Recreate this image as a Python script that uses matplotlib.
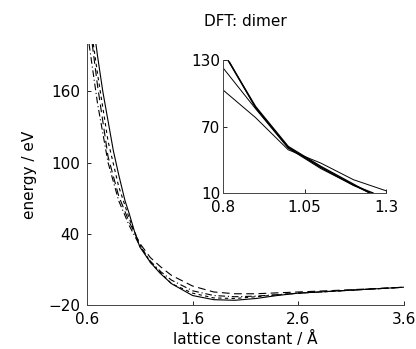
import matplotlib
matplotlib.use("Agg")
import matplotlib.pyplot as plt

plt.rcParams['font.family'] = ['DejaVu Sans']

# main panel: energy vs lattice constant, four calculations
x_solid = [0.685, 0.7, 0.75, 0.8, 0.85, 0.9, 0.96, 1.0, 1.05, 1.1, 1.2, 1.29, 1.4, 1.6, 1.8, 2.0, 2.2, 2.4, 2.6, 2.8, 3.0, 3.2, 3.4, 3.6]
y_solid = [200, 190, 160, 135, 110, 90, 68, 57, 42, 29, 16, 7, -2, -12, -15.5, -16, -14.5, -12, -10, -9, -8, -7, -6, -5]

x_long = [0.65, 0.7, 0.8, 0.9, 1.0, 1.1, 1.2, 1.3, 1.4, 1.6, 1.8, 2.0, 2.2, 2.6, 3.0, 3.6]
y_long = [200, 165, 105, 72, 50, 32, 20, 12, 5, -4, -9, -10.5, -10.5, -9, -7.5, -5]

x_dashdot = [0.62, 0.7, 0.8, 0.9, 1.0, 1.1, 1.2, 1.3, 1.4, 1.6, 1.8, 2.0, 2.2, 2.6, 3.0, 3.6]
y_dashdot = [200, 150, 100, 68, 47, 30, 17, 8, 1, -8, -12, -13, -12.5, -10, -8, -5]

x_short = [0.66, 0.7, 0.8, 0.9, 1.0, 1.1, 1.2, 1.4, 1.6, 1.8, 2.0, 2.2, 2.6, 3.0, 3.6]
y_short = [200, 175, 118, 80, 53, 31, 16, -2, -10, -14, -14.5, -13, -10, -8, -5]

main_xticks = [0.6, 1.6, 2.6, 3.6]
main_yticks = [-20, 40, 100, 160]

# inset: zoom on the repulsive part
ins_x1 = [0.815, 0.9, 1.0, 1.1, 1.2, 1.25]
ins_y1 = [130, 88, 52, 34, 18, 10]
ins_x2 = [0.82, 0.9, 1.0, 1.1, 1.2, 1.26]
ins_y2 = [128, 87, 51, 33, 17, 10]
ins_x3 = [0.8, 0.9, 1.0, 1.1, 1.2, 1.25]
ins_y3 = [123, 86, 50.5, 32, 17, 10]
ins_x4 = [0.8, 0.9, 1.0, 1.1, 1.2, 1.3]
ins_y4 = [103, 78, 49, 37, 22, 12]

ins_xticks = [0.8, 1.05, 1.3]
ins_yticks = [10, 70, 130]

fig = plt.figure(figsize=(4.16, 3.49), dpi=100)
ax = fig.add_axes([0.209, 0.126, 0.762, 0.748])

ax.plot(x_solid, y_solid, color='black', lw=0.8, ls='-')
ax.plot(x_long, y_long, color='black', lw=0.8, ls=(0, (7, 4)))
ax.plot(x_dashdot, y_dashdot, color='black', lw=0.8, ls=(0, (6, 2.5, 1, 2.5)))
ax.plot(x_short, y_short, color='black', lw=0.8, ls=(0, (3, 3)))

ax.set_xlim(0.6, 3.6)
ax.set_ylim(-20, 200)
ax.set_xticks(main_xticks)
ax.set_xticklabels(['0.6', '1.6', '2.6', '3.6'])
ax.set_yticks(main_yticks)
ax.set_yticklabels(['\u221220', '40', '100', '160'])
ax.tick_params(direction='in', length=3, width=0.6, labelsize=11, pad=5)
for s in ['top', 'right']:
    ax.spines[s].set_visible(False)
for s in ['left', 'bottom']:
    ax.spines[s].set_linewidth(0.7)
    ax.spines[s].set_color('#444444')
ax.set_xlabel('lattice constant / \u00c5', fontsize=11, labelpad=3)
ax.set_ylabel('energy / eV', fontsize=11, labelpad=8)

ins = fig.add_axes([0.536, 0.447, 0.392, 0.381])
ins.plot(ins_x1, ins_y1, color='black', lw=1.0)
ins.plot(ins_x2, ins_y2, color='black', lw=1.0)
ins.plot(ins_x3, ins_y3, color='black', lw=0.7)
ins.plot(ins_x4, ins_y4, color='black', lw=0.7)
ins.set_xlim(0.8, 1.3)
ins.set_ylim(10, 130)
ins.set_xticks(ins_xticks)
ins.set_xticklabels(['0.8', '1.05', '1.3'])
ins.set_yticks(ins_yticks)
ins.tick_params(direction='in', length=3, width=0.6, labelsize=11)
ins.tick_params(axis='x', pad=5)
ins.tick_params(axis='y', pad=2)
for s in ['top', 'right']:
    ins.spines[s].set_visible(False)
for s in ['left', 'bottom']:
    ins.spines[s].set_linewidth(0.7)
    ins.spines[s].set_color('#444444')

fig.text(0.591, 0.937, 'DFT: dimer', ha='center', va='center', fontsize=11)

fig.savefig('out.png', dpi=100)
